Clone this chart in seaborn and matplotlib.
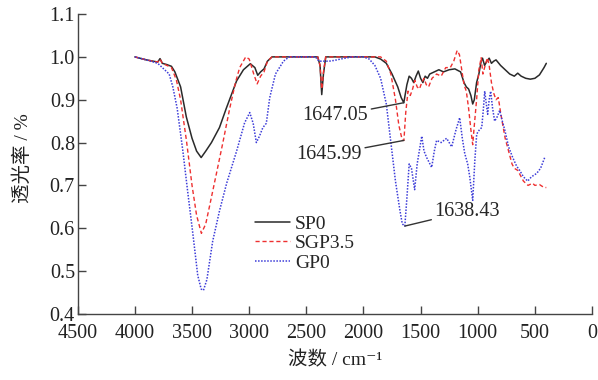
import seaborn as sns
import matplotlib
matplotlib.use("Agg")
import matplotlib.pyplot as plt
import pandas as pd

# SP0 (solid black)
sp0_wn = [4000, 3900, 3800, 3780, 3760, 3720, 3680, 3650, 3600, 3550, 3500, 3460, 3420, 3380,
          3330, 3260, 3200, 3110, 3050, 2990, 2950, 2925, 2900, 2870, 2840, 2800, 2400, 2380,
          2365, 2350, 2330, 1900, 1850, 1800, 1750, 1700, 1670, 1647, 1620, 1600, 1580, 1560,
          1540, 1520, 1500, 1480, 1460, 1440, 1420, 1380, 1340, 1300, 1250, 1200, 1150, 1120,
          1100, 1080, 1060, 1044, 1030, 1010, 990, 970, 958, 940, 920, 900, 880, 860, 840, 800,
          760, 720, 680, 650, 620, 580, 540, 500, 460, 420, 400]
sp0_t = [1.000, 0.993, 0.988, 0.996, 0.985, 0.982, 0.978, 0.965, 0.930, 0.860, 0.810, 0.780, 0.765, 0.780,
         0.800, 0.835, 0.880, 0.944, 0.970, 0.984, 0.975, 0.957, 0.965, 0.972, 0.990, 1.000, 1.000, 0.980,
         0.912, 0.960, 1.000, 1.000, 0.995, 0.985, 0.960, 0.930, 0.905, 0.893, 0.935, 0.955, 0.950, 0.940,
         0.955, 0.967, 0.950, 0.940, 0.955, 0.950, 0.960, 0.965, 0.970, 0.965, 0.970, 0.972, 0.965, 0.940,
         0.930, 0.925, 0.910, 0.890, 0.900, 0.940, 0.960, 0.990, 0.997, 0.980, 0.990, 0.997, 0.985, 0.990, 0.993, 0.980,
         0.970, 0.960, 0.955, 0.962, 0.955, 0.950, 0.948, 0.950, 0.958, 0.975, 0.985]

# SGP3.5 (red dashed)
sgp_wn = [4000, 3900, 3800, 3780, 3760, 3720, 3680, 3650, 3636, 3600, 3549, 3500, 3460, 3418, 3380,
          3340, 3287, 3230, 3170, 3120, 3083, 3030, 3000, 2960, 2930, 2900, 2870, 2840, 2800, 2400,
          2380, 2365, 2350, 2330, 1850, 1800, 1760, 1720, 1690, 1660, 1646, 1630, 1610, 1590, 1570,
          1550, 1530, 1510, 1490, 1470, 1450, 1430, 1400, 1360, 1320, 1280, 1240, 1210, 1180, 1160,
          1140, 1120, 1100, 1080, 1060, 1044, 1030, 1010, 990, 970, 955, 935, 915, 900, 880, 860, 840,
          820, 800, 780, 760, 740, 720, 700, 680, 650, 620, 600, 580, 560, 520, 500, 460, 420, 400]
sgp_t = [1.000, 0.993, 0.988, 0.995, 0.985, 0.980, 0.975, 0.955, 0.945, 0.900, 0.805, 0.700, 0.630, 0.588, 0.610,
         0.660, 0.727, 0.800, 0.880, 0.940, 0.975, 1.000, 0.995, 0.960, 0.937, 0.955, 0.965, 0.990, 1.000, 1.000,
         0.980, 0.925, 0.965, 1.000, 1.000, 0.990, 0.960, 0.900, 0.840, 0.805, 0.805, 0.870, 0.920, 0.910, 0.925,
         0.945, 0.930, 0.925, 0.940, 0.950, 0.935, 0.930, 0.950, 0.960, 0.955, 0.975, 0.975, 0.990, 1.015, 1.005,
         0.970, 0.935, 0.920, 0.880, 0.830, 0.795, 0.840, 0.900, 0.970, 0.998, 0.960, 0.980, 0.998, 0.980, 0.940, 0.915, 0.900,
         0.905, 0.870, 0.840, 0.810, 0.790, 0.770, 0.750, 0.740, 0.735, 0.720, 0.710, 0.705, 0.700, 0.705, 0.700, 0.702, 0.695, 0.695]

# GP0 (blue dotted)
gp0_wn = [4000, 3900, 3800, 3760, 3700, 3668, 3630, 3580, 3540, 3494, 3450, 3420, 3400, 3370,
          3319, 3260, 3197, 3110, 3040, 2995, 2965, 2937, 2910, 2880, 2850, 2820, 2770, 2700, 2650,
          2420, 2390, 2350, 2300, 2250, 2200, 2100, 2000, 1950, 1900, 1850, 1800, 1760, 1720, 1680,
          1660, 1638, 1620, 1600, 1580, 1552, 1530, 1490, 1470, 1447, 1403, 1380, 1360, 1320, 1272,
          1228, 1190, 1158, 1135, 1114, 1088, 1070, 1044, 1025, 1009, 985, 965, 950, 939, 925, 913,
          900, 887, 870, 852, 830, 808, 785, 764, 730, 694, 660, 633, 600, 563, 530, 484, 450, 414]
gp0_t = [1.000, 0.993, 0.985, 0.975, 0.960, 0.930, 0.880, 0.780, 0.690, 0.590, 0.490, 0.458, 0.455, 0.480,
         0.570, 0.640, 0.705, 0.780, 0.846, 0.870, 0.845, 0.800, 0.815, 0.835, 0.845, 0.905, 0.960, 0.990, 1.000,
         1.000, 0.990, 0.990, 0.990, 0.992, 0.995, 1.000, 1.000, 0.995, 0.980, 0.950, 0.890, 0.800, 0.710, 0.640,
         0.610, 0.605, 0.670, 0.750, 0.740, 0.690, 0.750, 0.815, 0.780, 0.765, 0.742, 0.780, 0.805, 0.800, 0.810,
         0.790, 0.830, 0.858, 0.810, 0.775, 0.750, 0.720, 0.665, 0.760, 0.820, 0.830, 0.835, 0.880, 0.920, 0.890, 0.866,
         0.900, 0.920, 0.880, 0.850, 0.860, 0.875, 0.850, 0.830, 0.790, 0.765, 0.745, 0.735, 0.720, 0.710, 0.720, 0.728, 0.740, 0.765]

x_ticks = [4500, 4000, 3500, 3000, 2500, 2000, 1500, 1000, 500, 0]
y_ticks = [0.4, 0.5, 0.6, 0.7, 0.8, 0.9, 1.0, 1.1]

frames = []
for name, wn, t in [("SP0", sp0_wn, sp0_t), ("SGP3.5", sgp_wn, sgp_t), ("GP0", gp0_wn, gp0_t)]:
    frames.append(pd.DataFrame({"wn": wn, "t": t, "sample": name}))
df = pd.concat(frames, ignore_index=True)

sns.set_style("ticks")
plt.rcParams['font.family'] = ['Liberation Serif', 'Noto Sans CJK SC', 'DejaVu Sans']

fig = plt.figure(figsize=(5.98, 3.8), dpi=100)
ax = fig.add_axes([0.130, 0.174, 0.860, 0.789])

styles = {"SP0": ("#2a2a2a", "-", 1.1), "SGP3.5": ("#ee3030", (0, (3, 2)), 1.0), "GP0": ("#3c3cd8", (0, (1, 1)), 1.1)}
for name in ["SP0", "SGP3.5", "GP0"]:
    c, ls, lw = styles[name]
    sns.lineplot(data=df[df["sample"] == name], x="wn", y="t", sort=False, estimator=None,
                 color=c, linestyle=ls, linewidth=lw, label=name, ax=ax)

ax.set_xlim(4500, 0)
ax.set_ylim(0.4, 1.1)
ax.set_xticks(x_ticks)
ax.set_yticks(y_ticks)
ax.set_yticklabels([f"{v:.1f}" for v in y_ticks])
sns.despine(ax=ax)
for s in ["left", "bottom"]:
    ax.spines[s].set_color("#444444")
    ax.spines[s].set_linewidth(1.0)
ax.tick_params(direction="in", length=6, width=1, colors="#444444", labelcolor="#222222", labelsize=14.5)
ax.tick_params(axis="y", pad=2)
ax.tick_params(axis="x", pad=7)

ax.set_xlabel("波数 / cm⁻¹", fontsize=14, color="#222222", labelpad=6)
ax.set_ylabel("透光率 / %", fontsize=14, color="#222222")
ax.yaxis.set_label_coords(-0.09, 0.52)

ann = dict(arrowstyle="-", color="#333333", lw=1.0, shrinkA=0, shrinkB=0)
ax.annotate("1647.05", xy=(1647, 0.893), xytext=(1960, 0.862), ha="right", va="center",
            fontsize=14.5, arrowprops=ann)
ax.annotate("1645.99", xy=(1646, 0.805), xytext=(2015, 0.772), ha="right", va="center",
            fontsize=14.5, arrowprops=ann)
ax.annotate("1638.43", xy=(1638, 0.605), xytext=(1377, 0.640), ha="left", va="center",
            fontsize=14.5, arrowprops=ann)

leg = ax.legend(loc="upper left", bbox_to_anchor=(0.345, 0.33), frameon=False, fontsize=14,
                handlelength=1.8, handletextpad=0.25, labelspacing=0.1, borderpad=0, borderaxespad=0)

fig.savefig("out.png", dpi=100)
